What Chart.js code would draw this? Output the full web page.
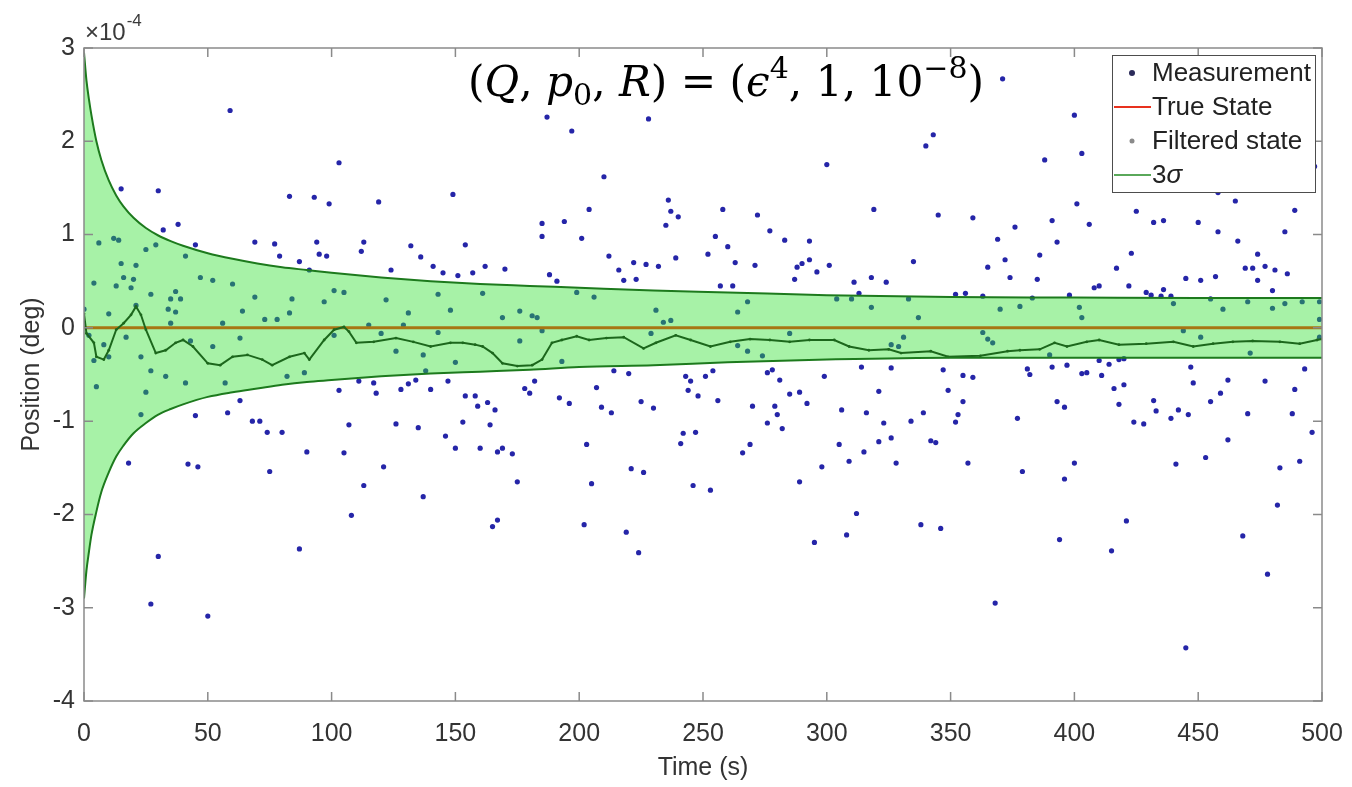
<!DOCTYPE html>
<html>
<head>
<meta charset="utf-8">
<script src="https://cdn.jsdelivr.net/npm/chart.js@4.4.0/dist/chart.umd.min.js"></script>
<style>
  html, body { margin: 0; padding: 0; background: #fff; }
</style>
</head>
<body>
<canvas id="kf" width="1352" height="787"></canvas>
<script>
// values of the position are in units of 1e-4 deg (the axis shows "x10^-4")
const xTicks = [0, 50, 100, 150, 200, 250, 300, 350, 400, 450, 500];
const yTicks = [-4, -3, -2, -1, 0, 1, 2, 3];

const measTime = [
  59, 15, 30, 83, 93, 99, 38, 32, 45, 69, 77, 79, 94, 95, 98, 87, 91, 6, 12, 14, 25, 29, 41, 15, 21, 4, 13, 16, 20, 19,
  47, 52, 60, 37, 35, 39, 27, 69, 84, 83, 97, 0, 10, 21, 34, 37, 64, 73, 78, 35, 56, 17, 2, 8, 4, 10, 23, 27, 33, 41,
  5, 57, 82, 89, 63, 52, 43, 25, 23, 45, 58, 63, 68, 71, 74, 80, 90, 18, 42, 46, 75, 87, 30, 27, 50,
  103, 119, 149, 113, 112, 132, 136, 154, 141, 145, 151, 157, 162, 170, 124, 185, 194, 185, 201, 188, 191, 187, 197,
  101, 105, 122, 143, 161, 131, 148, 169, 176, 181, 183, 199, 115, 129, 120, 101, 143, 176, 185, 137, 126, 150, 138, 193,
  103, 111, 117, 118, 128, 131, 134, 140, 147, 154, 158, 159, 163, 166, 178, 180, 182, 192, 196, 107, 126, 135, 153, 164,
  146, 150, 160, 167, 169, 173, 105, 121, 113, 137, 175, 108, 165, 167, 202,
  210, 300, 204, 236, 237, 240, 235, 258, 272, 277, 283, 293, 255, 260, 252, 212, 216, 222, 227, 232, 239, 218, 223, 263,
  271, 288, 293, 290, 296, 301, 257, 262, 287, 228, 206, 231, 264, 268, 234, 237, 229, 285, 264, 268, 274, 214, 220, 207,
  243, 245, 251, 254, 276, 278, 281, 299, 244, 248, 256, 225, 230, 209, 213, 270, 279, 285, 289, 292, 280, 276, 282, 242,
  247, 241, 266, 269, 203, 221, 226, 298, 205, 246, 253, 289, 219, 224, 295,
  371, 400, 343, 340, 388, 403, 319, 345, 359, 401, 376, 391, 369, 393, 386, 335, 372, 365, 374, 385, 318, 311, 324, 304,
  310, 313, 318, 333, 337, 352, 356, 363, 370, 378, 383, 398, 403, 331, 363, 365, 367, 329, 326, 390, 391, 314, 326, 347,
  355, 359, 381, 382, 397, 403, 321, 349, 355, 393, 396, 306, 316, 339, 323, 334, 353, 352, 377, 305, 315, 321, 326, 342,
  344, 309, 328, 357, 379, 396, 400, 312, 308, 338, 346, 394, 368,
  406, 425, 432, 436, 450, 458, 465, 458, 466, 489, 485, 497, 423, 474, 417, 469, 472, 477, 481, 486, 445, 451, 457, 474,
  480, 422, 429, 436, 408, 410, 431, 435, 439, 440, 455, 460, 470, 480, 485, 492, 499, 402, 444, 499, 499, 451, 471, 410,
  414, 418, 420, 405, 411, 493, 447, 448, 462, 477, 416, 420, 418, 432, 455, 459, 489, 433, 439, 442, 446, 470, 488, 424,
  428, 496, 462, 441, 453, 483, 491, 482, 421, 415, 468, 478, 445
];
const measValue = [
  2.33, 1.49, 1.47, 1.41, 1.40, 1.33, 1.11, 1.05, 0.89, 0.92, 0.90, 0.77, 0.92, 0.79, 0.77, 0.71, 0.62, 0.91, 0.96, 0.94, 0.84, 0.89, 0.77, 0.69, 0.67, 0.48, 0.45, 0.54, 0.52, 0.43,
  0.54, 0.51, 0.47, 0.39, 0.31, 0.31, 0.36, 0.33, 0.31, 0.16, 0.28, 0.20, 0.15, 0.24, 0.20, 0.17, 0.18, 0.09, 0.09, 0.05, 0.05, -0.10, -0.08, -0.18, -0.35, -0.31, -0.31, -0.46, -0.52, -0.59,
  -0.63, -0.59, -0.52, -0.48, -0.11, -0.20, -0.14, -0.69, -0.93, -0.94, -0.91, -0.78, -1.00, -1.00, -1.12, -1.12, -1.33, -1.45, -1.46, -1.49, -1.54, -2.37, -2.45, -2.96, -3.09,
  1.77, 1.35, 1.43, 0.92, 0.82, 0.88, 0.76, 0.89, 0.66, 0.59, 0.56, 0.59, 0.66, 0.63, 0.62, 1.12, 1.14, 0.98, 0.96, 0.57, 0.50, 2.26, 2.11,
  0.40, 0.38, 0.30, 0.36, 0.37, 0.16, 0.19, 0.11, 0.18, 0.13, 0.11, 0.38, 0.03, 0.03, -0.06, -0.08, -0.05, -0.14, -0.03, -0.29, -0.25, -0.37, -0.46, -0.36,
  -0.67, -0.57, -0.59, -0.70, -0.66, -0.60, -0.56, -0.66, -0.57, -0.73, -0.73, -0.84, -0.80, -0.88, -0.65, -0.70, -0.57, -0.75, -0.81, -1.04, -1.03, -1.07, -1.01, -1.04,
  -1.16, -1.29, -1.29, -1.33, -1.29, -1.35, -1.34, -1.49, -1.69, -1.81, -1.65, -2.01, -2.13, -2.06, -2.11,
  1.62, 1.75, 1.27, 1.37, 1.25, 1.19, 1.10, 1.27, 1.21, 1.04, 0.94, 0.93, 0.98, 0.87, 0.79, 0.77, 0.62, 0.70, 0.68, 0.66, 0.75, 0.51, 0.52, 0.70,
  0.67, 0.65, 0.73, 0.69, 0.60, 0.67, 0.45, 0.45, 0.52, 2.24, 0.33, 0.19, 0.17, 0.28, 0.06, 0.08, -0.06, -0.06, -0.19, -0.25, -0.30, -0.46, -0.49, -0.64,
  -0.52, -0.57, -0.52, -0.46, -0.48, -0.45, -0.56, -0.52, -0.67, -0.73, -0.78, -0.79, -0.86, -0.85, -0.91, -0.84, -0.84, -0.71, -0.69, -0.81, -0.93, -1.02, -1.08, -1.13,
  -1.12, -1.24, -1.34, -1.25, -1.25, -1.51, -1.55, -1.49, -1.67, -1.69, -1.74, -1.65, -2.19, -2.41, -2.30,
  2.67, 2.28, 2.07, 1.95, 1.80, 1.87, 1.27, 1.21, 1.18, 1.33, 1.08, 1.15, 0.95, 0.92, 0.78, 0.71, 0.73, 0.65, 0.54, 0.52, 0.54, 0.49, 0.49, 0.31,
  0.31, 0.37, 0.22, 0.31, 0.11, 0.36, 0.37, 0.34, 0.20, 0.23, 0.32, 0.35, 0.11, -0.10, -0.05, -0.12, -0.16, -0.20, -0.18, -0.29, -0.42, -0.42, -0.43, -0.45,
  -0.51, -0.53, -0.44, -0.50, -0.40, -0.49, -0.68, -0.67, -0.79, -0.79, -0.85, -0.88, -0.91, -0.91, -1.02, -1.00, -0.93, -1.01, -0.97, -1.25, -1.33, -1.22, -1.18, -1.21,
  -1.23, -1.43, -1.45, -1.45, -1.54, -1.62, -1.45, -1.99, -2.22, -2.11, -2.15, -2.27, -2.95,
  1.11, 1.25, 1.13, 1.15, 1.13, 1.03, 1.36, 1.45, 0.93, 1.26, 1.03, 1.73, 0.80, 0.79, 0.64, 0.64, 0.64, 0.66, 0.62, 0.58, 0.53, 0.51, 0.55, 0.51,
  0.40, 0.45, 0.38, 0.41, 0.43, 0.45, 0.35, 0.34, 0.34, 0.26, 0.31, 0.20, 0.28, 0.21, 0.26, 0.28, 0.28, 0.22, -0.03, 0.09, -0.10, -0.10, -0.27, -0.35,
  -0.39, -0.34, -0.33, -0.48, -0.51, -0.44, -0.42, -0.59, -0.56, -0.57, -0.65, -0.61, -0.82, -0.78, -0.79, -0.70, -0.66, -0.89, -0.97, -0.88, -0.93, -0.92, -0.92, -1.01,
  -1.03, -1.12, -1.20, -1.46, -1.39, -1.50, -1.43, -1.90, -2.07, -2.39, -2.23, -2.64, -3.43
];

// true state
const trueTime = [0, 500];
const trueValue = [0, 0];

// filtered state
const filtTime = [
  0, 1, 4, 5, 8, 10, 13, 16, 19, 21, 23, 25, 29, 33, 37, 40, 44, 50, 55, 60, 66, 72, 76, 83, 89, 91, 97, 101, 105, 107,
  110, 117, 126, 133, 140, 148, 153, 158, 161, 165, 169, 175, 181, 185, 189, 193, 199, 204, 211, 218, 226, 231, 239, 245,
  253, 261, 269, 277, 285, 293, 303, 309, 317, 325, 330, 342, 349, 362, 373, 378, 386, 392, 397, 405, 410, 418, 429, 440,
  448, 456, 464, 472, 483, 491, 498, 500
];
const filtValue = [
  0.15, -0.06, -0.16, -0.31, -0.34, -0.24, -0.02, 0.05, 0.14, 0.23, 0.14, -0.02, -0.27, -0.24, -0.16, -0.13, -0.20, -0.38, -0.40, -0.31, -0.29, -0.34, -0.40, -0.31, -0.27, -0.34, -0.13, -0.02, 0.01, -0.04,
  -0.16, -0.15, -0.11, -0.15, -0.20, -0.16, -0.16, -0.18, -0.20, -0.27, -0.38, -0.41, -0.40, -0.34, -0.16, -0.13, -0.09, -0.13, -0.11, -0.10, -0.22, -0.16, -0.08, -0.13,
  -0.20, -0.15, -0.12, -0.13, -0.15, -0.13, -0.13, -0.20, -0.24, -0.23, -0.27, -0.25, -0.31, -0.30, -0.25, -0.24, -0.23, -0.16, -0.20, -0.15, -0.13, -0.18, -0.17, -0.15,
  -0.20, -0.17, -0.15, -0.14, -0.15, -0.17, -0.13, -0.12
];

// 3 sigma envelope
const sigmaTime = [0, 1, 2, 3, 5, 7, 10, 13, 16, 20, 25, 30, 35, 40, 50, 60, 70, 80, 90, 100, 120, 140, 160, 180, 200, 230, 260, 300, 350, 400, 450, 500];
const sigmaUpper = [2.95, 2.65, 2.45, 2.28, 2.0, 1.8, 1.58, 1.42, 1.3, 1.18, 1.07, 0.99, 0.93, 0.88, 0.80, 0.74, 0.69, 0.65, 0.62, 0.59, 0.54, 0.50, 0.47, 0.45, 0.43, 0.40, 0.38, 0.35, 0.33, 0.325, 0.32, 0.32];
const sigmaLower = [-2.9, -2.6, -2.4, -2.22, -1.97, -1.76, -1.55, -1.38, -1.26, -1.13, -1.02, -0.93, -0.87, -0.82, -0.74, -0.69, -0.65, -0.61, -0.58, -0.56, -0.52, -0.49, -0.47, -0.45, -0.42, -0.40, -0.37, -0.34, -0.32, -0.32, -0.32, -0.32];

const pts = (xs, ys) => xs.map((x, i) => ({ x: x, y: ys[i] }));

const FONT = "'Liberation Sans', Arial, sans-serif";
const MEAS_COLOR = '#2525a8';

// box, inward ticks
const framePlugin = {
    id: 'frame',
    afterDatasetsDraw(chart) {
        const { ctx, chartArea: a, scales: { x, y } } = chart;
        ctx.save();
        ctx.strokeStyle = '#8a8a8a';
        ctx.lineWidth = 1.5;
        ctx.strokeRect(a.left, a.top, a.right - a.left, a.bottom - a.top);
        ctx.beginPath();
        xTicks.forEach(v => {
            const px = x.getPixelForValue(v);
            ctx.moveTo(px, a.bottom); ctx.lineTo(px, a.bottom - 9);
            ctx.moveTo(px, a.top); ctx.lineTo(px, a.top + 9);
        });
        yTicks.forEach(v => {
            const py = y.getPixelForValue(v);
            ctx.moveTo(a.left, py); ctx.lineTo(a.left + 9, py);
            ctx.moveTo(a.right, py); ctx.lineTo(a.right - 9, py);
        });
        ctx.stroke();

        // exponent label
        ctx.fillStyle = '#3a3a3a';
        ctx.textBaseline = 'alphabetic';
        ctx.textAlign = 'left';
        ctx.font = '24px ' + FONT;
        ctx.fillText('\u00d710', a.left + 1, a.top - 8);
        const w = ctx.measureText('\u00d710').width;
        ctx.font = '17px ' + FONT;
        ctx.fillText('-4', a.left + 2 + w, a.top - 22);
        ctx.restore();
    }
};

// parameter annotation
const mathPlugin = {
    id: 'mathNote',
    afterDraw(chart) {
        const ctx = chart.ctx;
        const parts = [
            ['(', 'n'], ['Q', 'i'], [', ', 'n'], ['p', 'i'], ['0', 'sub'], [', ', 'n'], ['R', 'i'],
            [') = (', 'n'], ['\u03f5', 'i'], ['4', 'sup'], [', 1, 10', 'n'], ['\u22128', 'sup'], [')', 'n']
        ];
        const fam = "'DejaVu Serif', 'Liberation Serif', serif";
        const fontFor = (kind, size) => {
            if (kind === 'i') return 'italic ' + size + 'px ' + fam;
            if (kind === 'sub' || kind === 'sup') return Math.round(size * 0.7) + 'px ' + fam;
            return size + 'px ' + fam;
        };
        const measure = size => parts.reduce((s, p) => {
            ctx.font = fontFor(p[1], size);
            return s + ctx.measureText(p[0]).width;
        }, 0);
        let size = 40;
        size = size * 515 / measure(size);
        let x = 468;
        const base = 96;
        ctx.save();
        ctx.fillStyle = '#000';
        ctx.textBaseline = 'alphabetic';
        ctx.textAlign = 'left';
        parts.forEach(p => {
            ctx.font = fontFor(p[1], size);
            let yy = base;
            if (p[1] === 'sub') yy = base + size * 0.22;
            if (p[1] === 'sup') yy = base - size * 0.42;
            ctx.fillText(p[0], x, yy);
            x += ctx.measureText(p[0]).width;
        });
        ctx.restore();
    }
};

// legend box in the top right corner
const legendPlugin = {
    id: 'boxLegend',
    afterDraw(chart) {
        const ctx = chart.ctx;
        const box = { left: 1112, top: 55, right: 1315, bottom: 192 };
        const items = [
            { label: 'Measurement', kind: 'dot', color: '#2b2b5a', r: 3 },
            { label: 'True State', kind: 'line', color: '#e8311e' },
            { label: 'Filtered state', kind: 'dot', color: '#8a8a8a', r: 2.5 },
            { label: '3\u03c3', kind: 'line', color: '#5aa85a' }
        ];
        ctx.save();
        ctx.fillStyle = '#ffffff';
        ctx.fillRect(box.left, box.top, box.right - box.left, box.bottom - box.top);
        ctx.strokeStyle = '#4d4d4d';
        ctx.lineWidth = 1;
        ctx.strokeRect(box.left + 0.5, box.top + 0.5, box.right - box.left, box.bottom - box.top);
        items.forEach((it, i) => {
            const cy = box.top + 18 + i * 34;
            if (it.kind === 'dot') {
                ctx.fillStyle = it.color;
                ctx.beginPath();
                ctx.arc(1132, cy, it.r, 0, Math.PI * 2);
                ctx.fill();
            } else {
                ctx.strokeStyle = it.color;
                ctx.lineWidth = 2;
                ctx.beginPath();
                ctx.moveTo(1114, cy);
                ctx.lineTo(1151, cy);
                ctx.stroke();
            }
            ctx.fillStyle = '#222';
            ctx.textBaseline = 'middle';
            ctx.textAlign = 'left';
            if (it.label === '3\u03c3') {
                ctx.font = '26px ' + FONT;
                ctx.fillText('3', 1152, cy + 1);
                const w = ctx.measureText('3').width;
                ctx.font = 'italic 26px ' + FONT;
                ctx.fillText('\u03c3', 1152 + w, cy + 1);
            } else {
                ctx.font = '26px ' + FONT;
                ctx.fillText(it.label, 1152, cy + 1);
            }
        });
        ctx.restore();
    }
};

const ctx = document.getElementById('kf').getContext('2d');
new Chart(ctx, {
    type: 'scatter',
    data: {
        datasets: [
            {
                label: 'Measurement',
                data: pts(measTime, measValue),
                pointRadius: 2.6,
                pointBorderWidth: 0,
                backgroundColor: MEAS_COLOR,
                order: 5
            },
            {
                label: 'True State',
                data: pts(trueTime, trueValue),
                showLine: true,
                borderColor: '#ff2a00',
                borderWidth: 3,
                pointRadius: 0,
                order: 4
            },
            {
                label: 'Filtered state',
                data: pts(filtTime, filtValue),
                showLine: true,
                borderColor: '#111111',
                borderWidth: 2,
                pointRadius: 1.4,
                pointBorderWidth: 0,
                backgroundColor: '#111111',
                order: 3
            },
            {
                label: '3\u03c3',
                data: pts(sigmaTime, sigmaUpper),
                showLine: true,
                borderColor: '#1d7a1d',
                borderWidth: 2,
                pointRadius: 0,
                cubicInterpolationMode: 'monotone',
                fill: '+1',
                backgroundColor: 'rgba(45, 225, 45, 0.42)',
                order: 2
            },
            {
                label: '3\u03c3 low',
                data: pts(sigmaTime, sigmaLower),
                showLine: true,
                borderColor: '#1d7a1d',
                borderWidth: 2,
                pointRadius: 0,
                cubicInterpolationMode: 'monotone',
                fill: false,
                order: 1
            }
        ]
    },
    options: {
        responsive: false,
        animation: false,
        devicePixelRatio: 1,
        layout: { padding: { left: 0, top: 48, right: 30, bottom: 0 } },
        plugins: {
            legend: { display: false },
            tooltip: { enabled: false }
        },
        scales: {
            x: {
                type: 'linear',
                min: 0,
                max: 500,
                afterBuildTicks: s => { s.ticks = xTicks.map(v => ({ value: v })); },
                afterFit: s => { s.height = 86; s.paddingLeft = 0; s.paddingRight = 0; },
                grid: { display: false, drawTicks: false },
                border: { display: false },
                ticks: { padding: 18, color: '#333', font: { family: FONT, size: 25 }, maxRotation: 0 },
                title: { display: true, text: 'Time (s)', color: '#333', font: { family: FONT, size: 25 }, padding: { top: 0, bottom: 4 } }
            },
            y: {
                type: 'linear',
                min: -4,
                max: 3,
                afterBuildTicks: s => { s.ticks = yTicks.map(v => ({ value: v })); },
                afterFit: s => { s.width = 84; s.paddingTop = 0; s.paddingBottom = 0; },
                grid: { display: false, drawTicks: false },
                border: { display: false },
                ticks: { padding: 9, color: '#333', font: { family: FONT, size: 25 } },
                title: { display: true, text: 'Position (deg)', color: '#333', font: { family: FONT, size: 25 }, padding: { top: 17, bottom: 0 } }
            }
        }
    },
    plugins: [framePlugin, mathPlugin, legendPlugin]
});
</script>
</body>
</html>
